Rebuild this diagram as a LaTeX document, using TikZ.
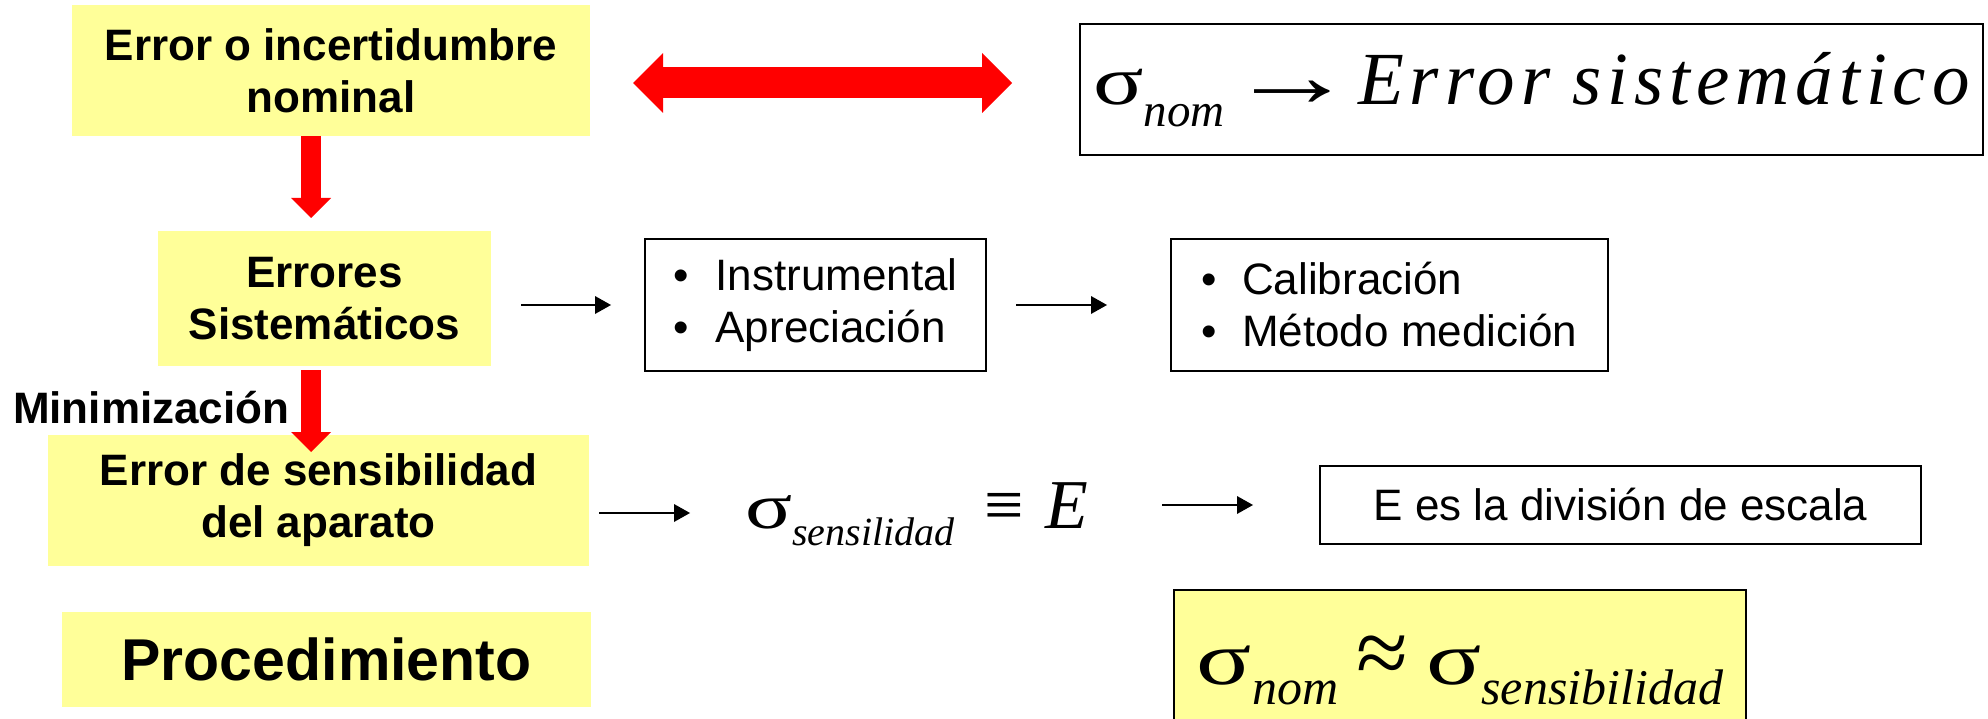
\documentclass[tikz,border=0pt]{standalone}
\usepackage{fontspec}
\setmainfont{Liberation Sans}
\newfontfamily\formula{Liberation Serif}
\usetikzlibrary{arrows.meta}
\definecolor{amarillo}{HTML}{FFFF99}
\definecolor{rojo}{HTML}{FF0000}
\newcommand{\sigmaancha}{\scalebox{1.25}[0.92]{σ}}

\begin{document}
\begin{tikzpicture}[
  x=1pt,
  y=-1pt,
  every node/.style={inner sep=0pt, outer sep=0pt, text=black},
  fondo/.style={fill=amarillo, align=center,
                font=\fontsize{44}{52}\selectfont\bfseries},
  caja/.style={draw=black, line width=2.5pt, align=left,
               font=\fontsize{44}{52}\selectfont},
  flecha/.style={black, line width=2pt,
                 -{Triangle[length=16pt, width=18pt, line width=0pt]}},
  roja/.style={rojo, line width=20pt,
               -{Triangle[length=20pt, width=40pt, line width=0pt]}},
  doble/.style={rojo, line width=31pt,
                {Triangle[length=30pt, width=60pt, line width=0pt]}-{Triangle[length=30pt, width=60pt, line width=0pt]}}
]
  \useasboundingbox (0,0) rectangle (1988,719);
  \clip (0,0) rectangle (1988,719);

  %% ---- columna izquierda ----------------------------------------------
  \node[fondo, minimum width=518, minimum height=131] (nominal) at (331,70.5)
    {Error o incertidumbre\\nominal};
  \node[fondo, minimum width=333, minimum height=135] (sistematicos) at (324.5,298.5)
    {Errores\\Sistemáticos};
  \node[fondo, minimum width=541, minimum height=131] (sensibilidad) at (318.5,500.5)
    {Error de sensibilidad\\del aparato};
  \node[fondo, minimum width=529, minimum height=95,
        font=\fontsize{59}{70}\selectfont\bfseries] (procedimiento) at (326.5,659.5)
    {Procedimiento};
  \node[anchor=base west, font=\fontsize{44}{52}\selectfont\bfseries] (minimizacion)
    at (13,423) {Minimización};

  %% ---- cajas con borde ------------------------------------------------
  \node[caja, minimum width=903, minimum height=131,
        font=\formula\fontsize{75}{80}\selectfont] (sistematico) at (1531.5,89.5)
    {\sigmaancha\raisebox{-22pt}{\fontsize{47}{47}\selectfont\itshape nom}\hspace{4pt}\raisebox{-2pt}{\scalebox{1.7}[1.2]{→}}\hspace{2pt}{\itshape\addfontfeature{LetterSpace=8}Error\hspace{22pt}sistemático}};
  \node[caja, minimum width=341, minimum height=132] (tipos) at (815.5,305)
    {\textbullet\hspace{27pt}Instrumental\\\textbullet\hspace{27pt}Apreciación};
  \node[caja, minimum width=437, minimum height=132] (causas) at (1389.5,305)
    {\textbullet\hspace{25pt}Calibración\\\textbullet\hspace{25pt}Método medición};
  \node[anchor=base west, font=\formula\fontsize{70}{70}\selectfont] (sigmasens) at (745,528)
    {\sigmaancha\raisebox{-17pt}{\fontsize{40}{40}\selectfont\itshape sensilidad}\hspace{30pt}≡\hspace{22pt}{\itshape E}};
  \node[caja, minimum width=601, minimum height=78] (escala) at (1620.5,505)
    {E es la división de escala};
  \node[caja, fill=amarillo, minimum width=572, minimum height=160, anchor=north west,
        font=\formula\fontsize{82}{82}\selectfont] (igualdad) at (1174,590)
    {\sigmaancha\raisebox{-20pt}{\fontsize{50}{50}\selectfont\itshape nom}\hspace{18pt}\scalebox{1.15}{≈}\hspace{18pt}\sigmaancha\raisebox{-20pt}{\fontsize{50}{50}\selectfont\itshape sensibilidad}};

  %% ---- flechas rojas --------------------------------------------------
  \coordinate (punta1) at (311,218);
  \coordinate (punta2) at (311,452);
  \coordinate (izq) at (633,83);
  \coordinate (der) at (1012,83);
  \draw[roja] (nominal.south -| punta1) -- (punta1);
  \draw[roja] ([yshift=-4pt]sistematicos.south -| punta2) -- (punta2);
  \draw[doble] (izq) -- (der);

  %% ---- flechas negras -------------------------------------------------
  \draw[flecha] ([xshift=30pt]sistematicos.east |- tipos.west) -- ([xshift=-34pt]tipos.west);
  \draw[flecha] ([xshift=30pt]tipos.east) -- ([xshift=-64pt]causas.west);
  \draw[flecha] ([xshift=10pt, yshift=-12.5pt]sensibilidad.east) -- ++(91,0);
  \draw[flecha] ([xshift=-158pt]escala.west) -- ([xshift=-67pt]escala.west);

\end{tikzpicture}
\end{document}
